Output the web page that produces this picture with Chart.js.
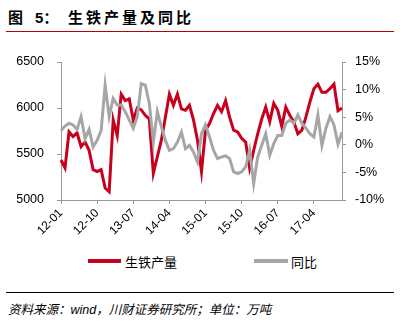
<!DOCTYPE html>
<html>
<head>
<meta charset="utf-8">
<script src="https://cdn.jsdelivr.net/npm/chart.js@4"></script>
<style>
  body { margin: 0; background: #fff; width: 403px; height: 323px; position: relative; overflow: hidden;
         font-family: "Liberation Sans", Arial, "Noto Sans CJK SC", sans-serif; }
  .title { position: absolute; top: 6px; font-size: 15px; font-weight: bold; color: #000;
           font-family: "Liberation Sans", "Noto Sans CJK SC", sans-serif; }
  .rule { position: absolute; left: 6px; width: 388px; height: 1px; }
  .foot { position: absolute; left: 8px; top: 299px; font-size: 12.5px; font-style: italic; color: #000;
          font-family: "Liberation Sans", "Noto Sans CJK SC", sans-serif; }
  .leg { position: absolute; top: 252px; font-size: 13px; color: #000; font-family: "Noto Sans CJK SC", sans-serif; }
  .legline { position: absolute; height: 4px; top: 259px; }
  #wrap { position: absolute; left: 0; top: 40px; width: 403px; height: 205px; }
</style>
</head>
<body>
<div class="title" style="left:8px">图</div>
<div class="title" style="left:35px">5：</div>
<div class="title" style="left:68px; letter-spacing:3px">生铁产量及同比</div>
<div class="rule" style="top:31px; background:#c00000"></div>

<div id="wrap"><canvas id="chart" width="403" height="205"></canvas></div>

<div class="legline" style="left:88px; width:33px; background:#c8001e"></div>
<div class="leg" style="left:125px">生铁产量</div>
<div class="legline" style="left:254px; width:34px; background:#a6a6a6"></div>
<div class="leg" style="left:291px">同比</div>

<div class="rule" style="top:292px; background:#000"></div>
<div class="foot">资料来源：wind，川财证券研究所；单位：万吨</div>

<script>
// 月份 2012-01 ~ 2017-11
const months = [];
for (let y = 12; y <= 17; y++) {
  for (let m = 1; m <= 12; m++) {
    if (y === 17 && m > 11) break;
    months.push(y + '-' + String(m).padStart(2, '0'));
  }
}

// 生铁产量（万吨）
const output = [
  5435, 5350, 5740, 5690, 5730, 5580, 5630, 5540, 5330, 5310,
  5330, 5130, 5090, 5870, 5700, 6150, 6080, 6100, 5870, 6000,
  5980, 5920, 5880, 5290, 5470, 5650, 5900, 6150, 6030, 6150,
  5990, 5975, 6030, 5870, 5650, 5310, 5760, 5830, 5940, 6030,
  5960, 6080, 5900, 5760, 5740, 5670, 5630, 5345, 5540, 5720,
  5880, 6010, 5850, 6050, 5975, 5800, 6010, 5920, 5850, 5720,
  5760, 5900, 6065, 6210, 6260, 6170, 6170, 6210, 6260, 5970,
  6000
];

// 同比（%）
const yoy = [
  2.6, 3.4, 3.9, 3.6, 2.8, 5.1, 1.1, 2.8, -0.4, 0.8,
  2.6, 10.8, 5.1, 8.4, 7.2, 7.2, 6.0, 4.5, 3.0, 5.1,
  11.1, 10.8, 7.5, 0.5, 6.0, 3.3, 0.8, -1.0, -0.7, 0.5,
  2.3, -0.7, -0.1, -1.3, -3.1, 2.0, 3.6, 1.4, -1.0, -2.5,
  -2.2, -2.0, -2.5, -4.9, -5.2, -4.9, -4.0, -1.0, -7.0, -2.2,
  -0.1, 2.0, -1.9, 0.2, 1.7, 1.7, 3.9, 4.5, 3.9, 5.4,
  3.9, 3.0, 2.0, 1.4, 5.4, -0.1, 3.0, 5.1, 3.6, 0.1,
  2.3
];

const axisColor = '#999999';
const tickFont = { family: '"Liberation Sans", Arial, sans-serif', size: 12.5 };

const ctx = document.getElementById('chart').getContext('2d');
const chart = new Chart(ctx, {
  type: 'line',
  data: {
    labels: months,
    datasets: [
      {
        label: '同比',
        data: yoy,
        borderColor: '#a6a6a6',
        borderWidth: 3,
        pointRadius: 0,
        tension: 0,
        yAxisID: 'y2'
      },
      {
        label: '生铁产量',
        data: output,
        borderColor: '#c8001e',
        borderWidth: 3,
        pointRadius: 0,
        tension: 0,
        yAxisID: 'y'
      }
    ]
  },
  options: {
    responsive: false,
    animation: false,
    layout: { padding: { top: 22, left: 0, right: 0, bottom: 0 } },
    plugins: {
      legend: { display: false },
      tooltip: { enabled: false }
    },
    scales: {
      x: {
        offset: false,
        afterFit: s => { s.height = 45; },
        grid: { drawOnChartArea: false, color: axisColor, tickLength: 4 },
        border: { color: axisColor, width: 1 },
        ticks: {
          autoSkip: false,
          minRotation: 45,
          maxRotation: 45,
          padding: 2,
          color: '#000',
          font: { family: '"Liberation Sans", Arial, sans-serif', size: 12 },
          callback: function (v, i) { return i % 9 === 0 ? months[i] : null; }
        }
      },
      y: {
        position: 'left',
        min: 5000,
        max: 6500,
        afterFit: s => { s.width = 61; },
        grid: { drawOnChartArea: false, color: axisColor, tickLength: 4 },
        border: { color: axisColor, width: 1 },
        ticks: { stepSize: 500, padding: 13, color: '#000', font: tickFont, callback: v => String(v) }
      },
      y2: {
        position: 'right',
        min: -10,
        max: 15,
        afterFit: s => { s.width = 61; },
        grid: { drawOnChartArea: false, color: axisColor, tickLength: 4 },
        border: { color: axisColor, width: 1 },
        ticks: { stepSize: 5, padding: 9, color: '#000', font: tickFont, callback: v => v + '%' }
      }
    }
  }
});
</script>
</body>
</html>
